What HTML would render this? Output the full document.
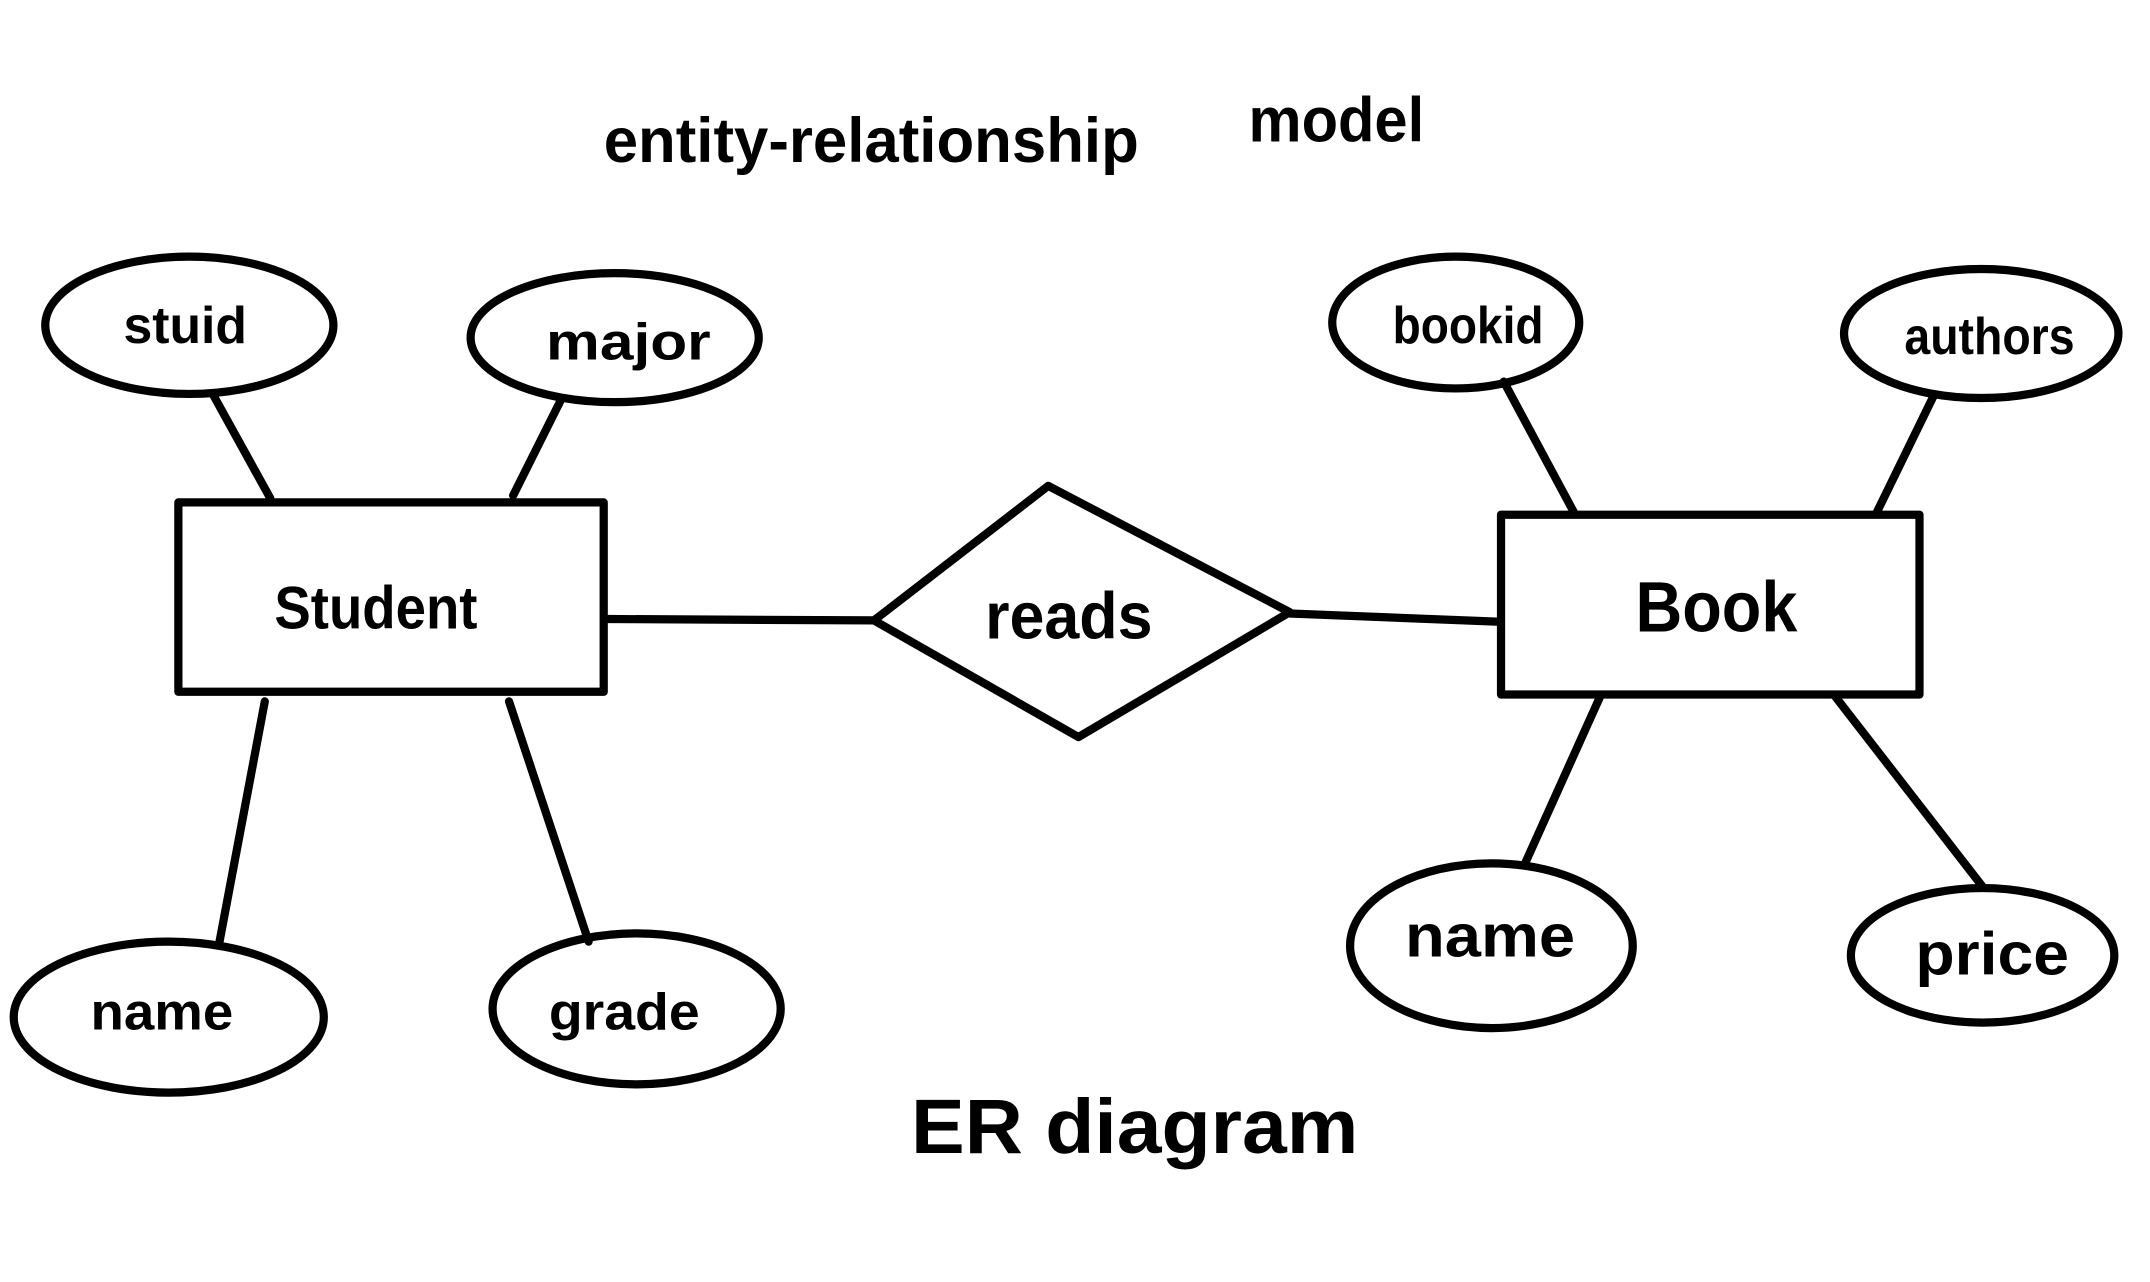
<!DOCTYPE html>
<html><head><meta charset="utf-8"><style>
html,body{margin:0;padding:0;background:#fff;}
svg{display:block}
text{font-family:"Liberation Sans",sans-serif;fill:#000;font-weight:bold}
</style></head><body>
<svg width="2150" height="1282" viewBox="0 0 1567 934" preserveAspectRatio="none" xmlns="http://www.w3.org/2000/svg">
<rect width="1567" height="934" fill="#fff"/>
<g fill="none" stroke="#000" stroke-width="6" stroke-linecap="round" stroke-linejoin="round">
<ellipse cx="138" cy="237" rx="105" ry="50"/>
<ellipse cx="448" cy="246" rx="105" ry="47"/>
<rect x="130" y="366" width="310" height="138"/>
<ellipse cx="123" cy="741" rx="113" ry="55"/>
<ellipse cx="464" cy="735" rx="105" ry="55"/>
<polygon points="637,452 764,354 940,446 786,537"/>
<line x1="443" y1="451" x2="637" y2="452"/>
<line x1="940" y1="447" x2="1093" y2="453"/>
<rect x="1094" y="375" width="305" height="131"/>
<ellipse cx="1061" cy="235" rx="90" ry="48"/>
<ellipse cx="1444" cy="243" rx="100" ry="47"/>
<ellipse cx="1087" cy="689" rx="103" ry="60"/>
<ellipse cx="1445" cy="696" rx="96" ry="49"/>
<line x1="155" y1="287" x2="197" y2="363"/>
<line x1="409" y1="291" x2="374" y2="361"/>
<line x1="193" y1="511" x2="160" y2="686"/>
<line x1="371" y1="511" x2="429" y2="686"/>
<line x1="1096" y1="278" x2="1147" y2="373"/>
<line x1="1409" y1="289" x2="1368" y2="373"/>
<line x1="1166" y1="508" x2="1112" y2="628"/>
<line x1="1338" y1="508" x2="1445" y2="646"/>
</g>
<text x="440" y="118" font-size="46" textLength="390" lengthAdjust="spacingAndGlyphs">entity-relationship</text>
<text x="910" y="103" font-size="46" textLength="128" lengthAdjust="spacingAndGlyphs">model</text>
<text x="90" y="250" font-size="38" textLength="90" lengthAdjust="spacingAndGlyphs">stuid</text>
<text x="398" y="262" font-size="38" textLength="120" lengthAdjust="spacingAndGlyphs">major</text>
<text x="200" y="458" font-size="44" textLength="148" lengthAdjust="spacingAndGlyphs">Student</text>
<text x="718" y="465" font-size="48" textLength="122" lengthAdjust="spacingAndGlyphs">reads</text>
<text x="1192" y="460" font-size="52" textLength="118" lengthAdjust="spacingAndGlyphs">Book</text>
<text x="1015" y="250" font-size="38" textLength="110" lengthAdjust="spacingAndGlyphs">bookid</text>
<text x="1388" y="258" font-size="38" textLength="124" lengthAdjust="spacingAndGlyphs">authors</text>
<text x="66" y="750" font-size="38" textLength="104" lengthAdjust="spacingAndGlyphs">name</text>
<text x="400" y="750" font-size="38" textLength="110" lengthAdjust="spacingAndGlyphs">grade</text>
<text x="1024" y="697" font-size="44" textLength="124" lengthAdjust="spacingAndGlyphs">name</text>
<text x="1396" y="710" font-size="44" textLength="112" lengthAdjust="spacingAndGlyphs">price</text>
<text x="664" y="840" font-size="56" textLength="326" lengthAdjust="spacingAndGlyphs">ER  diagram</text>
</svg>
</body></html>
